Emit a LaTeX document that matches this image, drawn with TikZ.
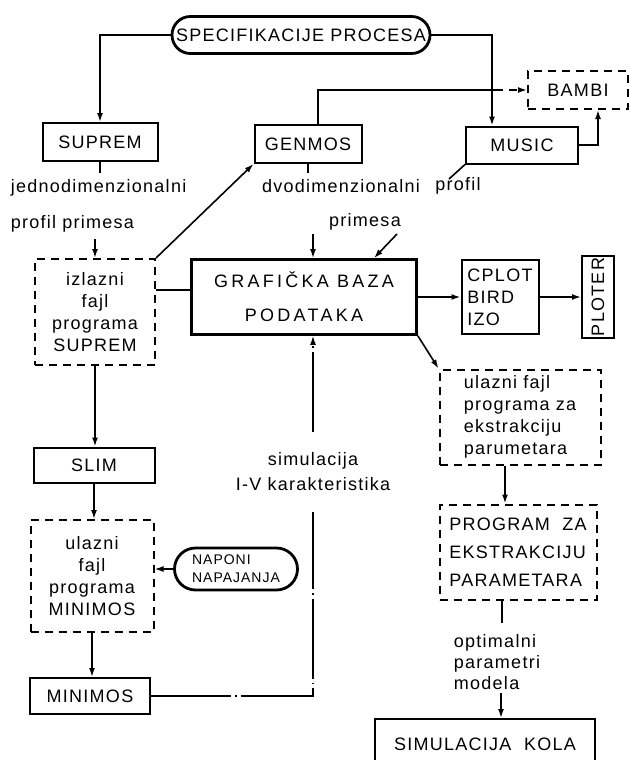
\documentclass[tikz,border=0pt]{standalone}
\usepackage{fontspec}
\setmainfont{Liberation Sans}[LetterSpace=7]
\usetikzlibrary{arrows.meta}

\begin{document}
\begin{tikzpicture}[x=0.5pt, y=-0.5pt, line width=0.8pt,
  font=\fontsize{9}{11}\selectfont,
  >={Latex[length=4.5pt,width=3pt]},
  box/.style={draw, line width=1pt, inner sep=2pt},
  dbox/.style={box, dash pattern=on 4pt off 3pt},
  pill/.style={draw, line width=1.4pt, rounded corners=9.2pt, inner sep=2pt},
  lbl/.style={inner sep=0pt, align=left},
  simline/.style={line width=0.6pt, dash pattern=on 40pt off 2pt on 0.8pt off 2pt}]
\useasboundingbox (0,0) rectangle (629,760);

% gornji red
\node[pill, minimum width=126.5pt, minimum height=18.5pt] (spec) at (301,35) {SPECIFIKACIJE PROCESA};
\node[box, minimum width=57.5pt, minimum height=19pt] (suprem) at (100,142) {SUPREM};
\node[box, minimum width=53.5pt, minimum height=19pt] (genmos) at (308,144) {GENMOS};
\node[box, minimum width=56pt, minimum height=18.5pt] (music) at (522,145) {MUSIC};
\node[dbox, minimum width=50pt, minimum height=19pt] (bambi) at (578,90) {BAMBI};

% natpisi profila
\node[lbl, anchor=west, font=\fontsize{9}{18}\selectfont] (jedlbl) at (10,206) {jednodimenzionalni\\profil primesa};
\node[lbl] (dvolbl) at (341,186) {dvodimenzionalni};
\node[lbl] (proflbl) at (458,186) {profil};
\node[lbl] (primlbl) at (365,222) {primesa};

% baza i izlazi
\node[box, line width=1.4pt, minimum width=112.5pt, minimum height=37.5pt, align=center,
  font=\fontsize{9}{17}\selectfont\addfontfeature{LetterSpace=18}] (grafika) at (304,297) {GRAFIČKA BAZA\\PODATAKA};
\node[dbox, minimum width=60pt, minimum height=53pt, align=center] (izlsup) at (95,312) {izlazni\\fajl\\programa\\SUPREM};
\node[box, minimum width=38.5pt, minimum height=37pt, align=left] (cplot) at (500,297) {CPLOT\\BIRD\\IZO};
\node[box, rotate=90, minimum width=37pt, minimum height=16pt, inner sep=1pt] (ploter) at (598,297) {PLOTER};

% lijeva grana
\node[box, minimum width=60.5pt, minimum height=17.5pt] (slim) at (94,465) {SLIM};
\node[dbox, minimum width=61.5pt, minimum height=56pt, align=center] (ulazmin) at (92,576) {ulazni\\fajl\\programa\\MINIMOS};
\node[pill, rounded corners=10.5pt, minimum width=61.5pt, minimum height=21pt, align=left,
  font=\fontsize{7}{9}\selectfont] (naponi) at (236,569) {NAPONI\\NAPAJANJA};
\node[box, minimum width=60pt, minimum height=18pt] (minimos) at (90,696) {MINIMOS};
\node[lbl, align=center, inner ysep=10pt, font=\fontsize{9}{12.5}\selectfont] (simlbl) at (313,472) {simulacija\\I-V karakteristika};

% desna grana
\node[dbox, minimum width=80.5pt, minimum height=47.5pt, align=left] (ulazext) at (520,417) {ulazni fajl\\programa za\\ekstrakciju\\parumetara};
\node[dbox, minimum width=78.5pt, minimum height=47.5pt, align=left, font=\fontsize{9}{14}\selectfont] (progext) at (518,552) {PROGRAM\ \ ZA\\EKSTRAKCIJU\\PARAMETARA};
\node[lbl, font=\fontsize{9}{10.5}\selectfont] (optlbl) at (497,662) {optimalni\\parametri\\modela};
\node[box, minimum width=110pt, minimum height=25pt, anchor=north] (simkola) at (485,718) {SIMULACIJA\ \ KOLA};

% veze
\coordinate (gbturn) at (495,90);
\coordinate (profend) at (449,179);
\coordinate (primend) at (397,234);
\draw[->] (spec.west) -| (suprem.north);
\draw[->] (spec.east) -| ([xshift=-15pt]music.north);
\draw ([xshift=5pt]genmos.north) |- (gbturn);
\draw[->, dash pattern=on 4pt off 3pt] (gbturn) -- (bambi.west);
\draw[->] (music.east) -| ([xshift=10pt]bambi.south);
\draw (music.south west) -- (profend);
\draw (suprem.south) -- ++(0,11);
\draw[<-] (izlsup.north) -- ++(0,-19);
\draw[->] (izlsup.north east) -- (genmos.south west);
\draw ([yshift=11pt]izlsup.east) -- ([yshift=11pt]izlsup.east -| grafika.west);
\draw (genmos.south) -- ++(0,9);
\draw[<-] ([xshift=4.5pt]grafika.north) -- ++(0,-24);
\draw[->] (primend) -- ([xshift=35pt]grafika.north);
\draw[->] (grafika.east) -- (cplot.west);
\draw[->] (cplot.east) -- (ploter.north);
\draw[->] (grafika.south east) -- (ulazext.north west);
\draw[->] ([xshift=-7.5pt]ulazext.south) -- ([xshift=-7.5pt]ulazext.south |- progext.north);
\draw ([xshift=-8pt]progext.south) -- ++(0,22);
\draw[<-] ([xshift=8pt]simkola.north) -- ++(0,-25);
\draw[->] (izlsup.south) -- (izlsup.south |- slim.north);
\draw[->] (slim.south) -- (slim.south |- ulazmin.north);
\draw[->] (naponi.west) -- (naponi.west -| ulazmin.east);
\draw[->] (ulazmin.south) -- (ulazmin.south |- minimos.north);
\draw[simline] (minimos.east) -| (simlbl.south);
\draw[simline, ->] (simlbl.north) -- (simlbl.north |- grafika.south);
\end{tikzpicture}
\end{document}
